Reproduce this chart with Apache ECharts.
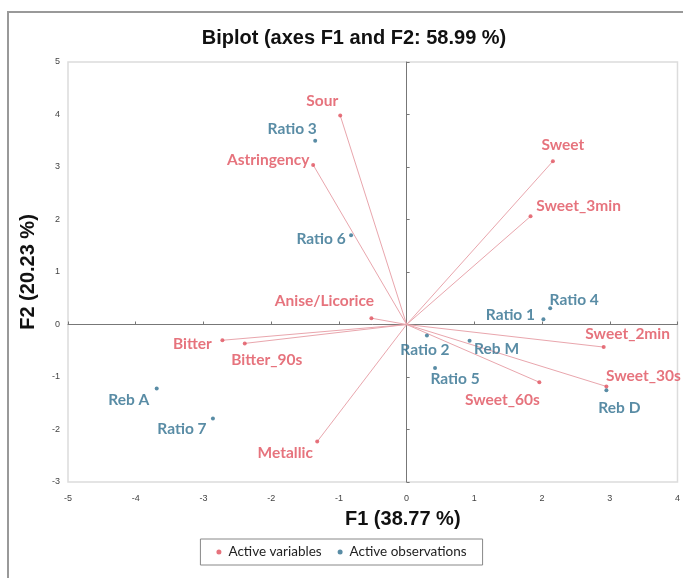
<!DOCTYPE html>
<html>
<head>
<meta charset="utf-8">
<script src="https://cdn.jsdelivr.net/npm/echarts@6/dist/echarts.min.js"></script>
<style>
  html, body { margin: 0; padding: 0; background: #fff; }
  #chart { width: 683px; height: 578px; }
</style>
</head>
<body>
<div id="chart"></div>
<script>
// Active variables (sensory attributes): coordinates on F1 / F2
const variableNames = ['Sour', 'Astringency', 'Anise/Licorice', 'Bitter', 'Bitter_90s', 'Metallic',
  'Sweet', 'Sweet_3min', 'Sweet_2min', 'Sweet_30s', 'Sweet_60s'];
const variableF1 = [-0.98, -1.38, -0.52, -2.72, -2.39, -1.32, 2.16, 1.83, 2.91, 2.95, 1.96];
const variableF2 = [3.98, 3.04, 0.12, -0.30, -0.36, -2.23, 3.11, 2.06, -0.43, -1.18, -1.10];

// Active observations (samples): coordinates on F1 / F2
const observationNames = ['Ratio 3', 'Ratio 6', 'Ratio 4', 'Ratio 1', 'Ratio 2', 'Reb M', 'Ratio 5',
  'Reb D', 'Reb A', 'Ratio 7'];
const observationF1 = [-1.35, -0.82, 2.12, 2.02, 0.30, 0.93, 0.42, 2.95, -3.69, -2.86];
const observationF2 = [3.50, 1.70, 0.31, 0.10, -0.21, -0.31, -0.83, -1.25, -1.22, -1.79];

const f1Range = [-5, 4];
const f2Range = [-3, 5];

const RED = '#e0505c';
const BLUE = '#2f6f8e';
const VECTOR = '#e9a6ad';
const LABEL_FONT = 'Lato, "Open Sans", sans-serif';
const NARROW_FONT = '"Liberation Sans Narrow", "Liberation Sans", Arial, sans-serif';
const SYMBOL = 4;

// label centre offset (px) from each point
const labelOffsets = {
  'Sour': [-18, -15], 'Astringency': [-45, -5], 'Anise/Licorice': [-47, -17], 'Bitter': [-30, 4],
  'Bitter_90s': [22, 17], 'Metallic': [-32, 11], 'Sweet': [10, -16], 'Sweet_3min': [48, -10],
  'Sweet_2min': [24, -13], 'Sweet_30s': [37, -10], 'Sweet_60s': [-37, 18],
  'Ratio 3': [-23, -12], 'Ratio 6': [-30, 4], 'Ratio 4': [24, -8], 'Ratio 1': [-33, -4],
  'Ratio 2': [-2, 14], 'Reb M': [27, 8], 'Ratio 5': [20, 11], 'Reb D': [13, 18],
  'Reb A': [-28, 11], 'Ratio 7': [-31, 11]
};

function pointLabel(name) {
  const o = labelOffsets[name] || [0, -12];
  return {
    show: true,
    formatter: name,
    position: [o[0] + SYMBOL / 2, o[1] + SYMBOL / 2],
    align: 'center',
    verticalAlign: 'middle'
  };
}

function points(names, xs, ys) {
  return names.map((n, i) => ({ name: n, value: [xs[i], ys[i]], label: pointLabel(n) }));
}

const vectorData = variableNames.map((n, i) => ({ coords: [[0, 0], [variableF1[i], variableF2[i]]] }));

const chart = echarts.init(document.getElementById('chart'), null, { renderer: 'canvas' });

chart.setOption({
  backgroundColor: '#fff',
  animation: false,
  title: {
    text: 'Biplot (axes F1 and F2: 58.99 %)',
    left: 349, top: 23, textAlign: 'center',
    textStyle: { fontFamily: NARROW_FONT, fontWeight: 'bold', fontSize: 20, color: '#111' }
  },
  legend: {
    left: 'center', top: 539,
    data: ['Active variables', 'Active observations'],
    icon: 'circle', itemWidth: 5, itemHeight: 5, itemGap: 16,
    borderColor: '#888', borderWidth: 1,
    padding: [6, 16, 6, 16],
    textStyle: { fontFamily: LABEL_FONT, fontSize: 13.5, color: '#222', padding: [0, 0, 0, 2] }
  },
  graphic: [{
    type: 'rect',
    shape: { x: 8, y: 12, width: 700, height: 600 },
    style: { fill: 'none', stroke: '#999', lineWidth: 2 },
    silent: true, z: -1
  }],
  grid: {
    left: 68, top: 62, width: 610, height: 420,
    show: true, borderColor: '#dcdcdc', borderWidth: 1.5
  },
  xAxis: [{
    type: 'value', min: f1Range[0], max: f1Range[1], interval: 1,
    position: 'bottom',
    name: 'F1 (38.77 %)', nameLocation: 'middle', nameGap: 27,
    nameTextStyle: { fontFamily: NARROW_FONT, fontWeight: 'bold', fontSize: 20, color: '#111', padding: [0, 0, 0, 60] },
    axisLine: { show: false, onZero: false },
    axisTick: { show: false },
    splitLine: { show: false },
    axisLabel: { margin: 12, fontSize: 9, color: '#444', fontFamily: NARROW_FONT }
  }, {
    // zero line across the plot, with tick marks
    type: 'value', min: f1Range[0], max: f1Range[1], interval: 1,
    axisLine: { show: true, onZero: true, onZeroAxisIndex: 0, lineStyle: { color: '#777', width: 1 } },
    axisTick: { show: true, length: 3, lineStyle: { color: '#777' } },
    axisLabel: { show: false }, splitLine: { show: false }
  }],
  yAxis: [{
    type: 'value', min: f2Range[0], max: f2Range[1], interval: 1,
    position: 'left',
    name: 'F2 (20.23 %)', nameLocation: 'middle', nameGap: 30, nameRotate: 90,
    nameTextStyle: { fontFamily: NARROW_FONT, fontWeight: 'bold', fontSize: 20, color: '#111' },
    axisLine: { show: false, onZero: false },
    axisTick: { show: false },
    splitLine: { show: false },
    axisLabel: { margin: 8, fontSize: 9, color: '#444', fontFamily: NARROW_FONT }
  }, {
    type: 'value', min: f2Range[0], max: f2Range[1], interval: 1,
    axisLine: { show: true, onZero: true, onZeroAxisIndex: 0, lineStyle: { color: '#777', width: 1 } },
    axisTick: { show: true, length: 3, lineStyle: { color: '#777' } },
    axisLabel: { show: false }, splitLine: { show: false }
  }],
  series: [{
    name: 'vectors',
    type: 'lines',
    coordinateSystem: 'cartesian2d',
    xAxisIndex: 0, yAxisIndex: 0,
    data: vectorData,
    lineStyle: { color: VECTOR, width: 1, opacity: 1 },
    silent: true, z: 2
  }, {
    name: 'Active variables',
    type: 'scatter',
    xAxisIndex: 0, yAxisIndex: 0,
    symbol: 'circle', symbolSize: SYMBOL,
    itemStyle: { color: RED },
    label: { fontFamily: LABEL_FONT, fontWeight: 'bold', fontSize: 15.5, color: RED },
    data: points(variableNames, variableF1, variableF2),
    z: 3
  }, {
    name: 'Active observations',
    type: 'scatter',
    xAxisIndex: 0, yAxisIndex: 0,
    symbol: 'circle', symbolSize: SYMBOL,
    itemStyle: { color: BLUE },
    label: { fontFamily: LABEL_FONT, fontWeight: 'bold', fontSize: 15.5, color: BLUE },
    data: points(observationNames, observationF1, observationF2),
    z: 3
  }]
});
</script>
</body>
</html>
